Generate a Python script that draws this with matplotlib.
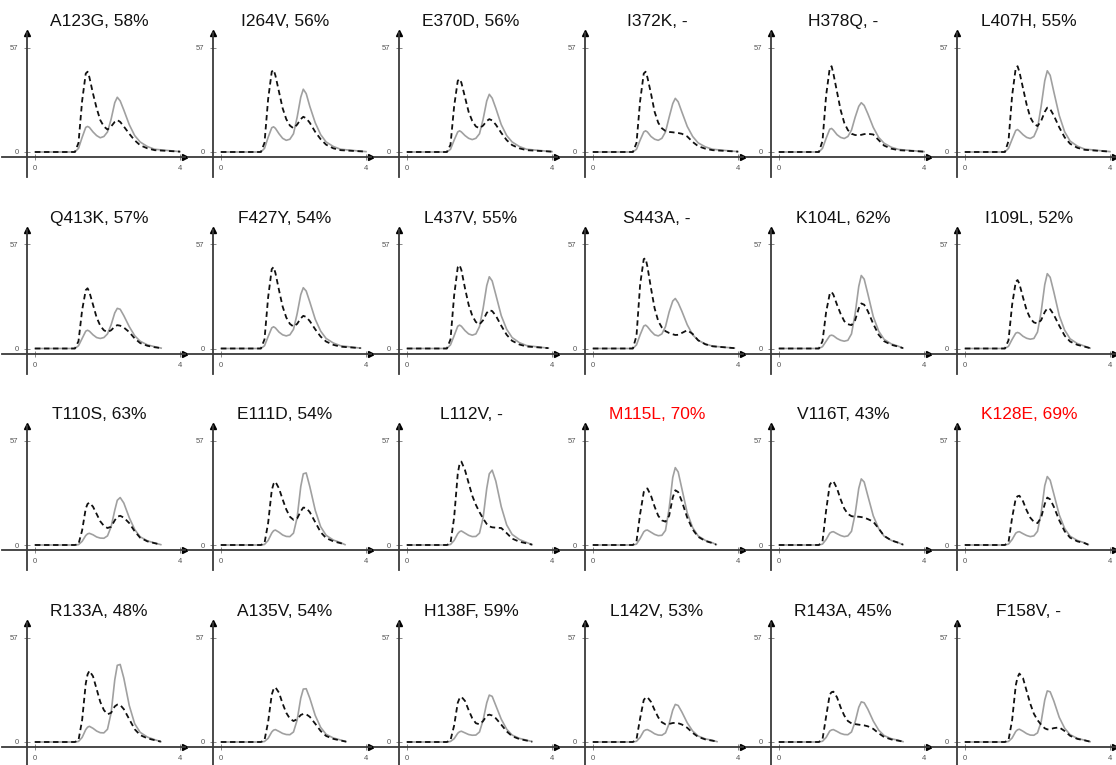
import matplotlib
matplotlib.use("Agg")
import matplotlib.pyplot as plt

# ---------------- data ----------------
x_grid = [0, 1.1, 1.2, 1.3, 1.4, 1.45, 1.5, 1.6, 1.7, 1.8, 1.9, 2.0, 2.1,
          2.2, 2.27, 2.35, 2.45, 2.6, 2.75, 2.9, 3.1, 3.3]

titles = ["A123G, 58%", "I264V, 56%", "E370D, 56%", "I372K, -", "H378Q, -", "L407H, 55%",
          "Q413K, 57%", "F427Y, 54%", "L437V, 55%", "S443A, -", "K104L, 62%", "I109L, 52%",
          "T110S, 63%", "E111D, 54%", "L112V, -", "M115L, 70%", "V116T, 43%", "K128E, 69%",
          "R133A, 48%", "A135V, 54%", "H138F, 59%", "L142V, 53%", "R143A, 45%", "F158V, -"]
highlighted = ["M115L, 70%", "K128E, 69%"]

x_end = [4.0, 4.0, 4.0, 4.0, 4.0, 4.0,
         3.48, 3.85, 3.9, 3.9, 3.42, 3.45,
         3.47, 3.42, 3.45, 3.4, 3.42, 3.4,
         3.47, 3.45, 3.45, 3.42, 3.42, 3.45]

d_A123G = [0, 0, 5, 28, 43, 44, 41, 32, 24, 17.5, 14, 12.3, 14, 16.5, 17.5, 16.5, 14, 10, 6.4, 3.7, 2, 1, 0.2]
s_A123G = [0, 0, 2, 8, 13.5, 14, 13.5, 11, 9, 7.8, 8.5, 11, 18, 27, 30, 28, 23, 15, 9, 5.5, 3, 1.5, 0.2]
d_I264V = [0, 0, 5, 29, 44, 45, 42, 33, 24, 18, 14.5, 13, 15, 18, 19.3, 18.5, 16, 11, 7, 4, 2, 1, 0.2]
s_I264V = [0, 0, 2, 8, 13.3, 13.8, 13, 10, 7.5, 6.4, 7, 10, 19, 30, 34.4, 32, 25, 16, 9.5, 5.5, 3, 1.5, 0.2]
d_E370D = [0, 0, 4, 25, 39, 40, 38, 30, 22, 17, 14, 13, 14.5, 17, 18, 17.3, 15, 10.5, 6.5, 3.8, 2, 1, 0.2]
s_E370D = [0, 0, 1.5, 6.5, 11, 11.6, 11, 9, 7.5, 6.8, 7.5, 10, 18, 28, 31.6, 29.5, 24, 15, 9, 5.5, 3, 1.5, 0.2]
d_I372K = [0, 0, 5, 28, 43, 44, 41, 32, 22, 16, 13, 11.5, 11, 10.8, 10.6, 10.4, 10, 8.5, 5.5, 3.2, 1.8, 1, 0.2]
s_I372K = [0, 0, 1.5, 6.5, 11, 11.6, 11, 8.5, 7, 6.4, 7.5, 11, 19, 26.5, 29.4, 27.5, 22, 14, 8.5, 5, 2.8, 1.5, 0.2]
d_H378Q = [0, 0, 6, 31, 46, 47, 43, 33, 23, 16, 12, 10, 9.3, 9.2, 9.4, 9.8, 10, 9.6, 6.5, 3.5, 1.8, 1, 0.2]
s_H378Q = [0, 0, 2, 7.5, 12.5, 12.9, 12, 9.5, 8, 7.4, 8.5, 12, 19, 25, 27, 25.5, 21, 13.5, 8, 4.8, 2.6, 1.4, 0.2]
d_L407H = [0, 0, 6, 31, 46, 47, 44, 35, 26, 19, 15.5, 14.2, 17, 22, 24.3, 23.5, 20, 13.5, 8, 4.5, 2.3, 1.2, 0.2]
s_L407H = [0, 0, 2, 7, 11.8, 12.3, 11.5, 9.5, 8, 7.4, 8.5, 13, 25, 39, 44.5, 42, 33, 20, 11, 6, 3.2, 1.6, 0.2]

d_Q413K = [0, 0, 4, 21, 32, 33, 31, 24, 17, 12.5, 10, 9, 10, 12, 12.8, 12.5, 11.5, 9, 5.5, 3, 1.5, 0.7, 0.2]
s_Q413K = [0, 0, 1.5, 5.5, 9.5, 10, 9.5, 7.5, 6, 5.5, 6, 8, 13, 19.5, 22, 21.5, 18, 12, 7, 4, 2, 1, 0.2]
d_F427Y = [0, 0, 5, 28, 43.5, 44.6, 41.5, 32, 23, 17, 13.5, 12, 13.5, 16.5, 17.9, 17.3, 15, 10.5, 6.5, 3.8, 2, 1, 0.2]
s_F427Y = [0, 0, 1.5, 6.5, 11.3, 11.9, 11.3, 9, 7.5, 6.9, 7.5, 10.5, 19, 29.5, 33.3, 31.5, 25.5, 16, 9.5, 5.5, 3, 1.5, 0.2]
d_L437V = [0, 0, 5, 29, 44.5, 45.7, 43, 33, 24, 18, 14.5, 13.2, 15.5, 19.5, 21, 20.5, 18, 12.5, 7.5, 4.2, 2.2, 1.1, 0.2]
s_L437V = [0, 0, 2, 7, 12.2, 12.8, 12.2, 9.8, 8, 7.3, 8, 12, 22, 34.5, 39.3, 37, 29.5, 18, 10.5, 6, 3.2, 1.6, 0.2]
d_S443A = [0, 0, 7, 35, 49, 49.4, 45, 33, 22, 15, 11.5, 9.5, 8.5, 7.8, 7.4, 7.5, 8.5, 10, 8, 4.5, 2.3, 1.2, 0.2]
s_S443A = [0, 0, 2, 7.5, 12.3, 12.8, 12, 9.5, 7.5, 6.9, 8, 12, 20, 26, 27.4, 25, 20.5, 13, 7.5, 4.5, 2.5, 1.3, 0.2]
d_K104L = [0, 0, 4, 20, 30, 31, 29.5, 24, 19, 15, 13.3, 12.8, 15.5, 22, 24.7, 24, 20.5, 13.5, 7.5, 4, 2, 1, 0.2]
s_K104L = [0, 0, 1, 4, 7, 7.3, 7, 5.5, 4.5, 4, 4.5, 8, 19, 34, 40, 38, 30, 17.5, 9.5, 5, 2.5, 1.2, 0.2]
d_I109L = [0, 0, 4.5, 24, 36.5, 37.5, 35.5, 28, 21, 16.5, 14.3, 13.7, 15.5, 20, 22, 21.5, 18.5, 12.5, 7, 3.8, 2, 1, 0.2]
s_I109L = [0, 0, 1.2, 5, 8.4, 8.8, 8.4, 6.7, 5.6, 5.1, 5.5, 9, 20, 35, 41, 39, 31, 18, 10, 5.3, 2.7, 1.3, 0.2]

d_T110S = [0, 0, 0.5, 8, 20, 22.5, 23.2, 21, 17, 13, 10.5, 9.3, 10, 13.5, 15.5, 16, 15, 12, 7.5, 4, 2, 1, 0.2]
s_T110S = [0, 0, 0.2, 2, 5.2, 6.1, 6.4, 5.6, 4.4, 3.8, 3.7, 5, 10, 19, 24.5, 26, 23, 15, 8.5, 4.5, 2.3, 1.1, 0.2]
d_E111D = [0, 0, 1, 12, 30, 33.5, 34.7, 31, 25, 19.5, 15.5, 13.8, 14.5, 18.5, 20.5, 20.3, 18, 12.5, 7, 3.8, 2, 1, 0.2]
s_E111D = [0, 0, 0.3, 2.5, 6.5, 7.8, 8.2, 7, 5.5, 4.7, 4.6, 6.5, 15, 32, 39, 39.5, 32, 19, 10, 5.3, 2.7, 1.3, 0.2]
d_L112V = [0, 0, 1, 15, 39, 44.5, 45.7, 41, 34, 27, 22, 18, 14.5, 11.5, 10.2, 9.7, 9.5, 9.3, 6.5, 3.5, 1.8, 0.9, 0.2]
s_L112V = [0, 0, 0.3, 2.5, 6.2, 7.3, 7.7, 6.5, 5.3, 4.6, 4.7, 6.5, 15, 31, 39, 41, 35, 21, 11, 5.8, 3, 1.4, 0.2]
d_M115L = [0, 0, 2, 17, 29, 30.5, 31, 27, 21, 16, 13.5, 12.8, 16, 26, 30, 29, 24, 15, 8.5, 4.5, 2.2, 1, 0.2]
s_M115L = [0, 0, 0.5, 3.5, 7.2, 8, 8.2, 7, 5.8, 5.1, 5.3, 8, 20, 37, 42.4, 40, 31, 17.5, 9.5, 5, 2.5, 1.2, 0.2]
d_V116T = [0, 0, 2, 19, 33, 34.5, 35, 31, 25, 20, 17, 15.8, 15.5, 15.5, 15.3, 15, 14.2, 12.8, 9, 5, 2.5, 1.2, 0.2]
s_V116T = [0, 0, 0.5, 3, 6.5, 7.1, 7.3, 6.2, 5.2, 4.6, 5, 7.5, 17, 31, 36.2, 34.5, 27, 16, 9, 4.8, 2.5, 1.2, 0.2]
d_K128E = [0, 0, 1.5, 15, 25.5, 26.7, 27, 24, 19, 15, 12.7, 12, 15, 22.5, 26, 25, 21, 13.5, 7.5, 4, 2, 1, 0.2]
s_K128E = [0, 0, 0.5, 3, 6.5, 7.1, 7.3, 6.2, 5.2, 4.6, 5, 7.5, 17.5, 32.5, 37.5, 35.5, 28, 16.5, 9, 4.8, 2.5, 1.2, 0.2]

d_R133A = [0, 0, 1, 12, 32, 37, 39, 36, 29, 22, 17.5, 15.2, 16, 19.5, 20.5, 20.3, 18, 12.5, 7, 3.8, 2, 1, 0.2]
s_R133A = [0, 0, 0.3, 2.5, 6.8, 8.1, 8.6, 7.5, 6, 5.1, 5, 7, 16, 34, 42, 42.5, 35, 20, 10, 5.3, 2.7, 1.3, 0.2]
d_A135V = [0, 0, 1, 11, 26, 29, 30, 27, 21, 16, 12.8, 11.5, 12.5, 14.8, 15.4, 15.2, 13.8, 10, 6, 3.3, 1.7, 0.8, 0.2]
s_A135V = [0, 0, 0.3, 2, 5.5, 6.5, 6.8, 5.8, 4.7, 4.1, 4, 5.5, 12, 24, 29, 29.2, 24, 14.5, 8, 4.2, 2.2, 1.1, 0.2]
d_H138F = [0, 0, 1, 9, 21.5, 24, 24.8, 22.5, 17.5, 13, 10.3, 9.7, 11.5, 14.5, 15, 14.5, 13, 9.5, 5.8, 3.2, 1.6, 0.8, 0.2]
s_H138F = [0, 0, 0.3, 1.8, 4.8, 5.6, 5.9, 5, 4.1, 3.7, 3.8, 5.5, 12, 21.5, 25.7, 25, 20, 12.5, 7, 3.8, 2, 1, 0.2]
d_L142V = [0, 0, 1.5, 13, 23, 24.3, 24.6, 22, 17.5, 13.5, 10.8, 9.7, 9.9, 10.4, 10.5, 10.3, 9.6, 7.8, 5, 2.8, 1.4, 0.7, 0.2]
s_L142V = [0, 0, 0.4, 2.5, 6, 6.6, 6.8, 5.8, 4.5, 3.8, 3.7, 5, 10, 17.5, 20.6, 20, 16.5, 10.5, 6, 3.3, 1.7, 0.9, 0.2]
d_R143A = [0, 0, 1.5, 14, 26, 27.3, 27.6, 24.5, 19, 14.5, 11.5, 10.2, 9.8, 9.5, 9.3, 9.1, 8.6, 7.2, 4.8, 2.7, 1.4, 0.7, 0.2]
s_R143A = [0, 0, 0.4, 2.5, 6, 6.6, 6.8, 5.8, 4.7, 4.1, 4, 5.5, 11, 19, 22, 21.5, 18, 11.5, 6.5, 3.5, 1.8, 0.9, 0.2]
d_F158V = [0, 0, 1, 12, 31, 35.5, 37.5, 35, 28, 21, 15.5, 12, 9.5, 7.5, 6.9, 7, 7.6, 8, 6, 3.4, 1.7, 0.9, 0.2]
s_F158V = [0, 0, 0.3, 2.2, 5.8, 6.7, 7, 5.9, 4.6, 3.8, 3.7, 5, 11, 23, 28, 27.5, 22.5, 13.5, 7.5, 4, 2, 1, 0.2]

dashed_series = [d_A123G, d_I264V, d_E370D, d_I372K, d_H378Q, d_L407H,
                 d_Q413K, d_F427Y, d_L437V, d_S443A, d_K104L, d_I109L,
                 d_T110S, d_E111D, d_L112V, d_M115L, d_V116T, d_K128E,
                 d_R133A, d_A135V, d_H138F, d_L142V, d_R143A, d_F158V]
solid_series = [s_A123G, s_I264V, s_E370D, s_I372K, s_H378Q, s_L407H,
                s_Q413K, s_F427Y, s_L437V, s_S443A, s_K104L, s_I109L,
                s_T110S, s_E111D, s_L112V, s_M115L, s_V116T, s_K128E,
                s_R133A, s_A135V, s_H138F, s_L142V, s_R143A, s_F158V]

x_ticks = [0, 4]
y_ticks = [0, 57]

# ---------------- layout ----------------
W, H = 1116, 765
fig = plt.figure(figsize=(W / 100, H / 100), dpi=100)
plt.rcParams["font.family"] = ["Liberation Sans", "DejaVu Sans"]

PXX = 36.25     # pixels per x unit
PXY = 1.825     # pixels per y unit
X0_LOCAL = 35   # local pixel of x=0
LEFT_LOCAL, RIGHT_LOCAL = 2, 185
ROW_ZERO = [152, 348.5, 545, 742]
ABOVE, BELOW = 119, 25
AXIS_X = -8 / PXX     # y-axis line position (data)
AXIS_Y = -5 / PXY     # x-axis line position (data)
axis_color = "#3a3a3a"

for idx, title in enumerate(titles):
    r, c = divmod(idx, 6)
    left = c * 186 + LEFT_LOCAL
    right = c * 186 + RIGHT_LOCAL
    y0 = ROW_ZERO[r]
    top, bottom = y0 - ABOVE, y0 + BELOW
    ax = fig.add_axes([left / W, 1 - bottom / H, (right - left) / W, (bottom - top) / H])
    ax.set_xlim((LEFT_LOCAL - X0_LOCAL) / PXX, (RIGHT_LOCAL - X0_LOCAL) / PXX)
    ax.set_ylim(-BELOW / PXY, ABOVE / PXY)

    xs = x_grid + [x_end[idx]]
    ax.plot(xs, solid_series[idx], color="#a0a0a0", lw=1.2, zorder=3,
            solid_joinstyle="round")
    ax.plot(xs, dashed_series[idx], color="#111111", lw=1.3,
            linestyle=(0, (3, 2)), zorder=4)

    for side in ["top", "right"]:
        ax.spines[side].set_visible(False)
    ax.spines["left"].set_position(("data", AXIS_X))
    ax.spines["bottom"].set_position(("data", AXIS_Y))
    for side in ["left", "bottom"]:
        ax.spines[side].set_color(axis_color)
        ax.spines[side].set_linewidth(1.3)
    ax.plot(1, AXIS_Y, marker=">", color="black", markersize=5,
            transform=ax.get_yaxis_transform(), clip_on=False)
    ax.plot(AXIS_X, 1, marker="^", color="black", markersize=5,
            transform=ax.get_xaxis_transform(), clip_on=False)

    ax.set_xticks(x_ticks)
    ax.set_yticks(y_ticks)
    ax.tick_params(direction="inout", length=5, width=0.7, color="#888888",
                   labelsize=5.5, labelcolor="#555555", pad=3.5)

    color = "red" if title in highlighted else "#111111"
    ax.set_title(title, fontsize=12.5, color=color, pad=5, x=0.53)

fig.savefig("out.png", dpi=100)
